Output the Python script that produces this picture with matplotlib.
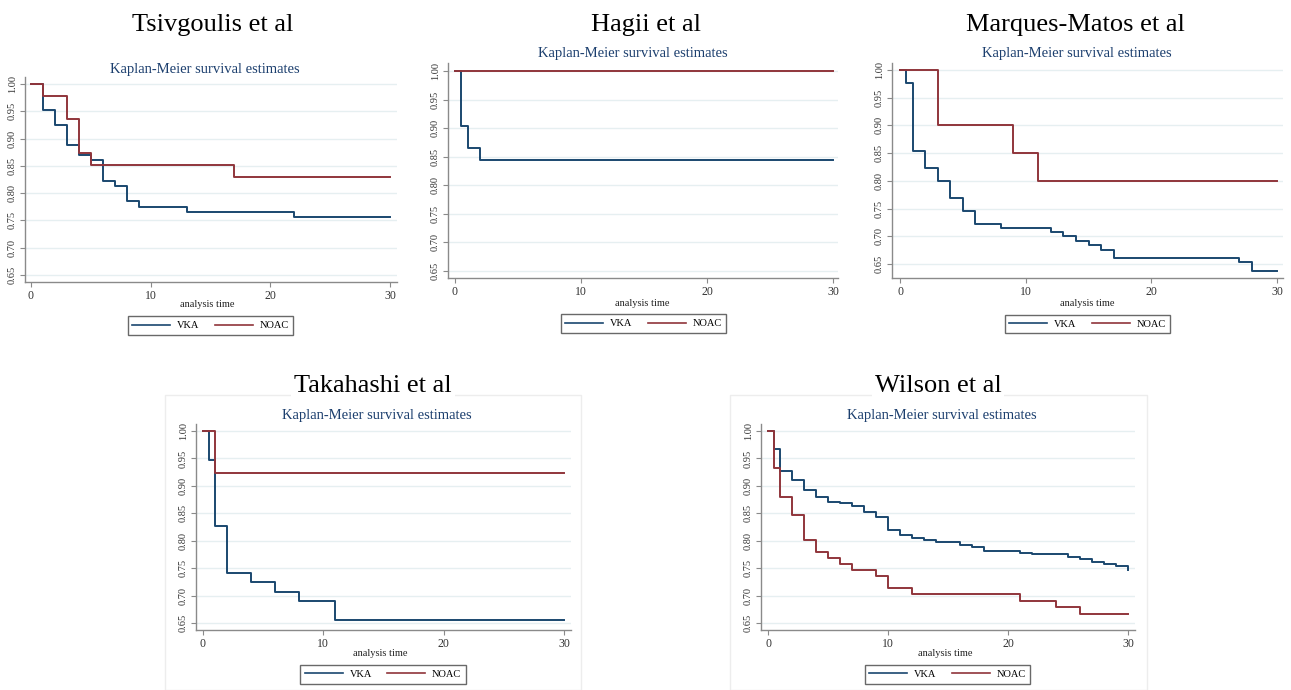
import matplotlib
matplotlib.use('Agg')
import matplotlib.pyplot as plt
from matplotlib.lines import Line2D
from matplotlib.patches import Rectangle

# Kaplan-Meier step data (time, survival)
tsiv_vka_t = [0, 1, 2, 3, 4, 5, 6, 7, 8, 9, 13, 22, 30]
tsiv_vka_s = [1.0, 0.953, 0.925, 0.888, 0.870, 0.861, 0.822, 0.813, 0.785, 0.775, 0.766, 0.757, 0.757]
tsiv_noac_t = [0, 1, 3, 4, 5, 17, 30]
tsiv_noac_s = [1.0, 0.978, 0.936, 0.873, 0.851, 0.830, 0.830]

hagii_vka_t = [0, 0.5, 1, 2, 30]
hagii_vka_s = [1.0, 0.903, 0.865, 0.845, 0.845]
hagii_noac_t = [0, 30]
hagii_noac_s = [1.0, 1.0]

marq_vka_t = [0, 0.5, 1, 2, 3, 4, 5, 6, 8, 12, 13, 14, 15, 16, 17, 27, 28, 30]
marq_vka_s = [1.0, 0.976, 0.853, 0.823, 0.800, 0.769, 0.745, 0.722, 0.715, 0.707, 0.700,
              0.692, 0.684, 0.676, 0.661, 0.653, 0.637, 0.637]
marq_noac_t = [0, 3, 9, 11, 30]
marq_noac_s = [1.0, 0.90, 0.85, 0.80, 0.80]

taka_vka_t = [0, 0.5, 1, 2, 4, 6, 8, 11, 30]
taka_vka_s = [1.0, 0.947, 0.827, 0.741, 0.724, 0.707, 0.690, 0.655, 0.655]
taka_noac_t = [0, 1, 30]
taka_noac_s = [1.0, 0.923, 0.923]

wils_vka_t = [0, 0.5, 1, 2, 3, 4, 5, 6, 7, 8, 9, 10, 11, 12, 13, 14, 16, 17, 18, 21, 22,
              25, 26, 27, 28, 29, 30]
wils_vka_s = [1.0, 0.967, 0.927, 0.910, 0.893, 0.880, 0.871, 0.868, 0.863, 0.853, 0.843,
              0.820, 0.811, 0.805, 0.802, 0.797, 0.793, 0.789, 0.781, 0.778, 0.775, 0.771,
              0.766, 0.762, 0.757, 0.753, 0.746]
wils_noac_t = [0, 0.5, 1, 2, 3, 4, 5, 6, 7, 9, 10, 12, 21, 24, 26, 30]
wils_noac_s = [1.0, 0.933, 0.879, 0.846, 0.802, 0.780, 0.769, 0.758, 0.747, 0.736, 0.713,
               0.702, 0.690, 0.679, 0.667, 0.667]

titles = ['Tsivgoulis et al', 'Hagii et al', 'Marques-Matos et al', 'Takahashi et al', 'Wilson et al']
series_labels = ['VKA', 'NOAC']
x_ticks = [0, 10, 20, 30]
y_ticks = [0.65, 0.70, 0.75, 0.80, 0.85, 0.90, 0.95, 1.00]

VKA_COL = '#1a476f'
NOAC_COL = '#90353b'
SUB_COL = '#1c3f6e'
GRID_COL = '#e6eff1'
W, H = 1291, 690

plt.rcParams['font.family'] = ['Liberation Serif', 'DejaVu Serif']

fig = plt.figure(figsize=(W / 100, H / 100), dpi=100)

# pixel layout per panel: spine left/right/bottom/top, px of x=0, x=30, y=1.00, y=0.65
# plus title, subtitle, xlabel centres and legend box (x0, x1, y0, y1)
layout = [
    dict(L=25, R=397, B=282, T=77, x0=31, x30=390, y1=84, y65=275,
         title=(213, 25), sub=(205, 69), xl=(207, 304), leg=(127, 294, 316, 335)),
    dict(L=448, R=838, B=278, T=63, x0=455, x30=833, y1=71, y65=271,
         title=(646, 25), sub=(633, 54), xl=(642, 303), leg=(556, 731, 314, 333)),
    dict(L=892, R=1283, B=278, T=63, x0=900, x30=1277, y1=70, y65=264,
         title=(1075, 25), sub=(1077, 54), xl=(1087, 303), leg=(1000, 1175, 314, 334)),
    dict(L=196, R=571, B=630, T=424, x0=203, x30=564, y1=431, y65=623,
         title=(373, 386), sub=(377, 416), xl=(380, 653), leg=(299, 467, 665, 684)),
    dict(L=761, R=1135, B=630, T=424, x0=768, x30=1128, y1=431, y65=623,
         title=(938, 386), sub=(942, 416), xl=(945, 653), leg=(863, 1032, 665, 684)),
]

curves = [
    (tsiv_vka_t, tsiv_vka_s, tsiv_noac_t, tsiv_noac_s),
    (hagii_vka_t, hagii_vka_s, hagii_noac_t, hagii_noac_s),
    (marq_vka_t, marq_vka_s, marq_noac_t, marq_noac_s),
    (taka_vka_t, taka_vka_s, taka_noac_t, taka_noac_s),
    (wils_vka_t, wils_vka_s, wils_noac_t, wils_noac_s),
]

# faint outer frames of the two bottom panels
for (fx0, fx1) in [(165, 581), (730, 1147)]:
    fig.patches.append(Rectangle((fx0 / W, 0), (fx1 - fx0) / W, 1 - 395 / H,
                                 transform=fig.transFigure, fill=False,
                                 edgecolor='#ededed', lw=1.0))

def fx(px):
    return px / W

def fy(py):
    return 1 - py / H

for i, lay in enumerate(layout):
    ax = fig.add_axes([fx(lay['L']), fy(lay['B']), (lay['R'] - lay['L']) / W,
                       (lay['B'] - lay['T']) / H])
    ppx = (lay['x30'] - lay['x0']) / 30.0
    ppy = (lay['y65'] - lay['y1']) / 0.35
    ax.set_xlim((lay['L'] - lay['x0']) / ppx, (lay['R'] - lay['x0']) / ppx)
    ax.set_ylim(1 - (lay['B'] - lay['y1']) / ppy, 1 + (lay['y1'] - lay['T']) / ppy)

    vt, vs, nt, ns = curves[i]
    ax.step(vt, vs, where='post', color=VKA_COL, lw=1.4)
    ax.step(nt, ns, where='post', color=NOAC_COL, lw=1.4)

    ax.set_yticks(y_ticks)
    ax.set_yticklabels(['%.2f' % v for v in y_ticks], rotation=90, va='center', fontsize=7.5)
    ax.set_xticks(x_ticks)
    ax.set_xticklabels([str(v) for v in x_ticks], fontsize=8.5)
    ax.yaxis.grid(True, color=GRID_COL, lw=1.0)
    ax.set_axisbelow(True)
    for s in ['top', 'right']:
        ax.spines[s].set_visible(False)
    for s in ['left', 'bottom']:
        ax.spines[s].set_color('#8a8a8a')
        ax.spines[s].set_linewidth(1.0)
    ax.tick_params(axis='both', color='#8a8a8a', length=3.5, width=0.8, pad=2.5,
                   labelcolor='#333333')

    tx, ty = lay['title']
    t = fig.text(fx(tx), fy(ty), titles[i], fontsize=19, ha='center', va='center', color='black')
    if i >= 3:
        t.set_bbox(dict(facecolor='white', edgecolor='none', pad=2))
    sx, sy = lay['sub']
    fig.text(fx(sx), fy(sy), 'Kaplan-Meier survival estimates', fontsize=10.5,
             ha='center', va='center', color=SUB_COL)
    lx, ly = lay['xl']
    fig.text(fx(lx), fy(ly), 'analysis time', fontsize=7.5, ha='center', va='center',
             color='#222222')

    gx0, gx1, gy0, gy1 = lay['leg']
    handles = [Line2D([], [], color=VKA_COL, lw=1.2), Line2D([], [], color=NOAC_COL, lw=1.2)]
    leg = fig.legend(handles, series_labels, loc='center', ncol=2,
                     bbox_to_anchor=(fx((gx0 + gx1) / 2), fy((gy0 + gy1) / 2)),
                     fontsize=7.5, frameon=True, fancybox=False, handlelength=3.65,
                     columnspacing=1.45, handletextpad=0.65, borderpad=0.45)
    leg.get_frame().set_edgecolor('#444444')
    leg.get_frame().set_linewidth(1.0)

fig.savefig('out.png', dpi=100, facecolor='white')
